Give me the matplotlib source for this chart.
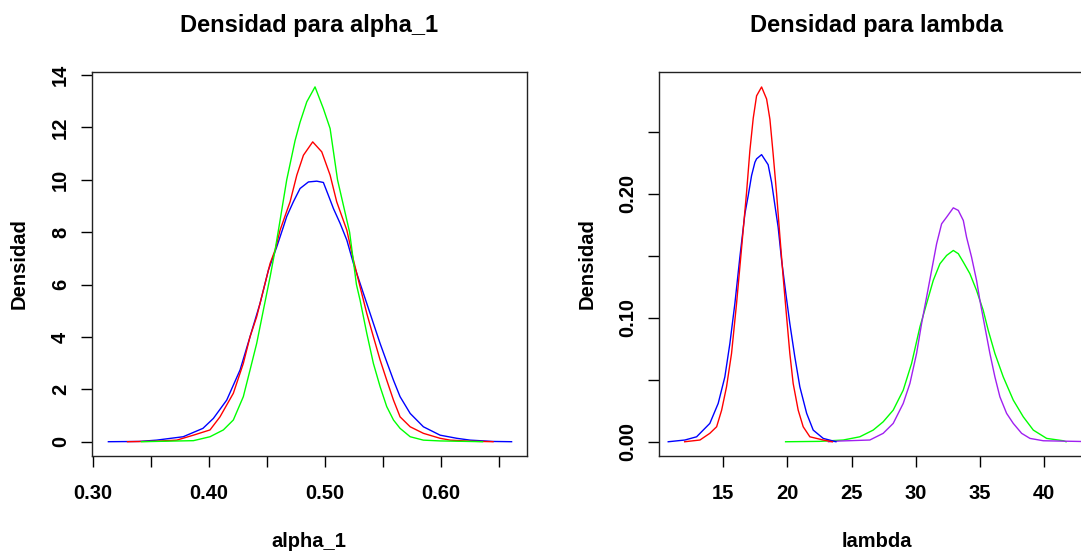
import matplotlib
matplotlib.use("Agg")
import matplotlib.pyplot as plt
from matplotlib.ticker import FixedLocator, FixedFormatter

plt.rcParams['font.family'] = ['Liberation Sans', 'DejaVu Sans']
plt.rcParams['font.weight'] = 'bold'

# densidades de alpha_1
alpha_blue_x = [0.3135, 0.340, 0.355, 0.378, 0.395, 0.404, 0.4155, 0.427, 0.4356, 0.4442,
                0.4514, 0.4586, 0.4643, 0.4672, 0.4729, 0.4787, 0.4859, 0.4931, 0.4988, 0.5031,
                0.5075, 0.5132, 0.5190, 0.5247, 0.5304, 0.5362, 0.5419, 0.5477, 0.5534, 0.5592,
                0.5649, 0.5736, 0.5850, 0.5994, 0.6138, 0.6253, 0.645, 0.661]
alpha_blue_y = [0.0, 0.01, 0.06, 0.19, 0.51, 0.89, 1.59, 2.74, 4.01, 5.28,
                6.55, 7.44, 8.20, 8.60, 9.16, 9.67, 9.92, 9.95, 9.90, 9.41,
                8.90, 8.34, 7.70, 6.81, 6.05, 5.28, 4.52, 3.75, 3.05, 2.35,
                1.72, 1.08, 0.57, 0.25, 0.13, 0.06, 0.01, 0.0]

alpha_red_x = [0.330, 0.355, 0.3724, 0.3868, 0.4011, 0.4097, 0.4212, 0.4298, 0.4356, 0.4413,
               0.4471, 0.4529, 0.4572, 0.4615, 0.4672, 0.4701, 0.4759, 0.4816, 0.4896, 0.4974,
               0.5046, 0.5103, 0.5190, 0.5247, 0.5304, 0.5362, 0.5419, 0.5477, 0.5534, 0.5592,
               0.5649, 0.5736, 0.5850, 0.5994, 0.6081, 0.625, 0.645]
alpha_red_y = [0.0, 0.02, 0.06, 0.25, 0.45, 0.95, 1.85, 2.99, 4.01, 4.77,
               5.79, 6.81, 7.32, 8.08, 8.80, 9.16, 10.18, 10.94, 11.45, 11.07,
               10.18, 9.16, 8.08, 6.94, 5.92, 4.90, 4.01, 3.12, 2.35, 1.59,
               0.95, 0.57, 0.32, 0.13, 0.06, 0.02, 0.0]

alpha_green_x = [0.342, 0.3868, 0.4011, 0.4126, 0.4212, 0.4298, 0.4356, 0.4413, 0.4471, 0.4529,
                 0.4572, 0.4615, 0.4672, 0.4744, 0.4787, 0.4845, 0.4916, 0.4988, 0.5046,
                 0.5110, 0.5214, 0.5273, 0.5304, 0.5362, 0.5419, 0.5477, 0.5534, 0.5592,
                 0.5649, 0.5736, 0.5850, 0.5994, 0.636]
alpha_green_y = [0.0, 0.04, 0.19, 0.45, 0.83, 1.72, 2.74, 3.75, 5.03, 6.30,
                 7.32, 8.46, 10.00, 11.50, 12.20, 12.98, 13.55, 12.72, 11.96,
                 10.00, 8.00, 6.00, 5.41, 4.14, 2.99, 2.10, 1.34, 0.83,
                 0.51, 0.19, 0.06, 0.03, 0.0]

# densidades de lambda
lam_red_x = [12.0, 13.19, 13.96, 14.49, 14.88, 15.26, 15.65, 16.04, 16.43, 16.82,
             17.08, 17.34, 17.47, 17.60, 17.99, 18.38, 18.50, 18.64, 18.89, 19.16,
             19.42, 19.67, 19.94, 20.19, 20.45, 20.84, 21.23, 21.75, 22.79, 23.5]
lam_red_y = [0.0, 0.0014, 0.0068, 0.0121, 0.0255, 0.0443, 0.0712, 0.1114, 0.1560, 0.2010,
             0.2350, 0.2610, 0.2700, 0.2790, 0.2862, 0.2765, 0.2690, 0.2600, 0.2322, 0.2000,
             0.1651, 0.1329, 0.1006, 0.0712, 0.0470, 0.0255, 0.0121, 0.0040, 0.0014, 0.0]

lam_blue_x = [10.72, 12.02, 12.93, 13.96, 14.61, 15.13, 15.52, 15.91, 16.30, 16.69,
              16.95, 17.21, 17.47, 17.60, 17.99, 18.50, 18.77, 19.03, 19.28, 19.55,
              19.88, 20.19, 20.58, 20.97, 21.50, 22.01, 22.79, 23.78]
lam_blue_y = [0.0, 0.0014, 0.0040, 0.0148, 0.0309, 0.0523, 0.0792, 0.1114, 0.1490, 0.1839,
              0.1986, 0.2147, 0.2254, 0.2282, 0.2316, 0.2235, 0.2093, 0.1906, 0.1731, 0.1463,
              0.1195, 0.0953, 0.0684, 0.0443, 0.0229, 0.0094, 0.0027, 0.0]

lam_green_x = [19.86, 22.5, 24.35, 25.64, 26.68, 27.46, 28.24, 29.02, 29.67, 30.32,
               30.84, 31.36, 31.88, 32.40, 32.92, 33.31, 33.70, 34.21, 34.73, 35.25,
               35.64, 36.16, 36.81, 37.59, 38.37, 39.15, 40.19, 41.49, 41.7]
lam_green_y = [0.0, 0.0003, 0.0014, 0.0040, 0.0094, 0.0161, 0.0255, 0.0416, 0.0631, 0.0926,
               0.1114, 0.1302, 0.1436, 0.1503, 0.1543, 0.1517, 0.1449, 0.1356, 0.1221, 0.1060,
               0.0899, 0.0712, 0.0523, 0.0336, 0.0201, 0.0094, 0.0027, 0.0008, 0.0]

lam_purple_x = [23.2, 24.09, 26.42, 27.46, 28.24, 29.02, 29.54, 30.06, 30.45, 30.84,
                31.23, 31.62, 32.01, 32.40, 32.92, 33.31, 33.70, 33.95, 34.34, 34.73,
                34.99, 35.38, 35.77, 36.16, 36.55, 37.07, 37.59, 38.24, 38.89, 39.93, 44.0]
lam_purple_y = [0.0, 0.0006, 0.0014, 0.0068, 0.0148, 0.0309, 0.0470, 0.0712, 0.0953, 0.1167,
                0.1382, 0.1597, 0.1758, 0.1812, 0.1887, 0.1866, 0.1785, 0.1651, 0.1490, 0.1302,
                0.1141, 0.0926, 0.0712, 0.0523, 0.0362, 0.0229, 0.0148, 0.0068, 0.0027, 0.0008, 0.0]

alpha_xticks = [0.30, 0.35, 0.40, 0.45, 0.50, 0.55, 0.60, 0.65]
alpha_xlabels = ["0.30", "", "0.40", "", "0.50", "", "0.60", ""]
alpha_yticks = [0, 2, 4, 6, 8, 10, 12, 14]
alpha_ylabels = ["0", "2", "4", "6", "8", "10", "12", "14"]
lam_xticks = [15, 20, 25, 30, 35, 40]
lam_xlabels = ["15", "20", "25", "30", "35", "40"]
lam_yticks = [0.00, 0.05, 0.10, 0.15, 0.20, 0.25]
lam_ylabels = ["0.00", "", "0.10", "", "0.20", ""]

fig = plt.figure(figsize=(10.81, 5.52), dpi=100)
ax1 = fig.add_axes([0.0848, 0.1739, 0.4024, 0.6962])
ax2 = fig.add_axes([0.6096, 0.1739, 0.4033, 0.6962])

lw = 1.0
ax1.plot(alpha_blue_x, alpha_blue_y, color='#0000FF', lw=lw)
ax1.plot(alpha_red_x, alpha_red_y, color='#FF0000', lw=lw)
ax1.plot(alpha_green_x, alpha_green_y, color='#00FF00', lw=lw)

ax2.plot(lam_green_x, lam_green_y, color='#00FF00', lw=lw)
ax2.plot(lam_purple_x, lam_purple_y, color='#A020F0', lw=lw)
ax2.plot(lam_blue_x, lam_blue_y, color='#0000FF', lw=lw)
ax2.plot(lam_red_x, lam_red_y, color='#FF0000', lw=lw)

ax1.set_xlim(0.2991, 0.674)
ax1.set_ylim(-0.546, 14.13)
ax2.set_xlim(10.0, 43.95)
ax2.set_ylim(-0.0115, 0.2985)

setup = [
    (ax1, alpha_xticks, alpha_xlabels, alpha_yticks, alpha_ylabels, "Densidad para alpha_1", "alpha_1"),
    (ax2, lam_xticks, lam_xlabels, lam_yticks, lam_ylabels, "Densidad para lambda", "lambda"),
]
for ax, xt, xl, yt, yl, title, xlab in setup:
    ax.xaxis.set_major_locator(FixedLocator(xt))
    ax.xaxis.set_major_formatter(FixedFormatter(xl))
    ax.yaxis.set_major_locator(FixedLocator(yt))
    ax.yaxis.set_major_formatter(FixedFormatter(yl))
    ax.tick_params(axis='x', direction='out', length=8, width=1, pad=12,
                   labelsize=14.5, colors='black')
    ax.tick_params(axis='y', direction='out', length=8, width=1, pad=7.5,
                   labelsize=14.5, labelrotation=90, colors='black')
    for lab in ax.get_yticklabels():
        lab.set_va('center')
        lab.set_fontweight('bold')
    for lab in ax.get_xticklabels():
        lab.set_fontweight('bold')
    for sp in ax.spines.values():
        sp.set_linewidth(1.0)
        sp.set_color('#222222')
    ax.set_title(title, fontsize=17, fontweight='bold', pad=28.6)
    ax.set_xlabel(xlab, fontsize=14.5, fontweight='bold')
    ax.set_ylabel("Densidad", fontsize=14.5, fontweight='bold')
    ax.xaxis.set_label_coords(0.5, -0.197)
    ax.yaxis.set_label_coords(-0.144, 0.5)

fig.savefig("out.png", dpi=100)
